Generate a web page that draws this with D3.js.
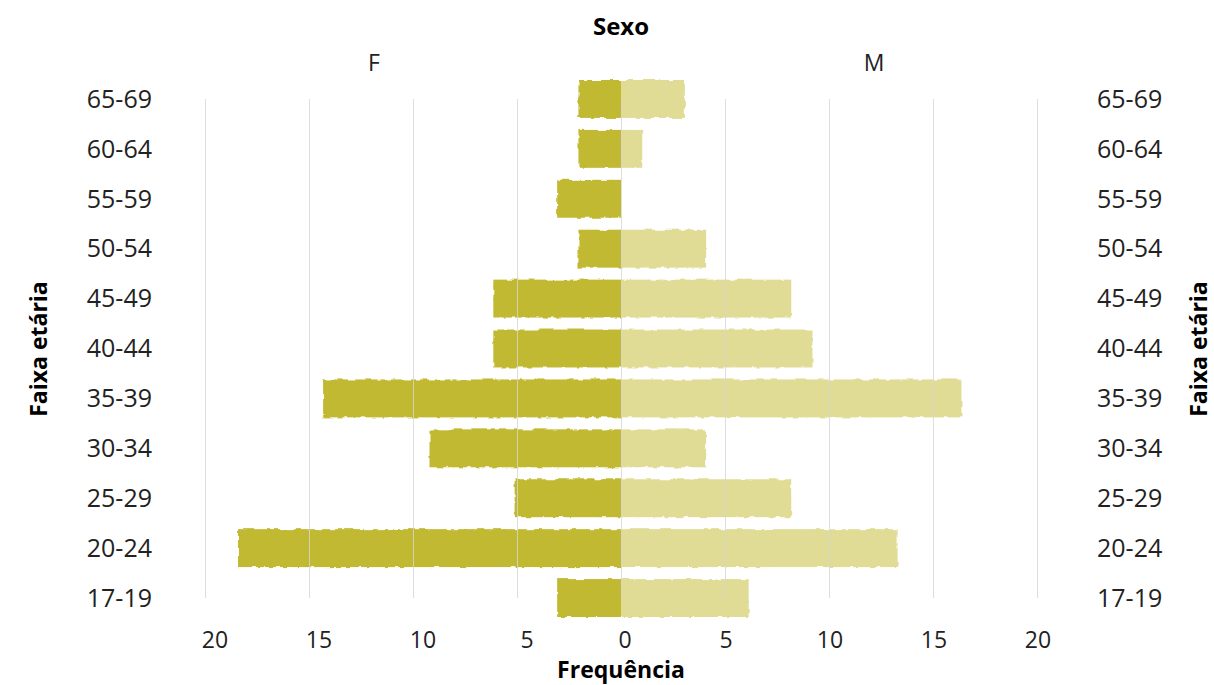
<!DOCTYPE html>
<html>
<head>
<meta charset="utf-8">
<script src="https://cdn.jsdelivr.net/npm/d3@7"></script>
<style>
  html, body { margin: 0; padding: 0; background: #fff; }
  svg { display: block; font-family: "Open Sans", "Noto Sans", sans-serif; }
</style>
</head>
<body>
<svg id="chart" width="1214" height="685"></svg>
<script>
// Age groups, bottom to top
const ageGroups = ["17-19", "20-24", "25-29", "30-34", "35-39", "40-44", "45-49", "50-54", "55-59", "60-64", "65-69"];
// Frequencies per sex
const femaleCounts = [3, 18, 5, 9, 14, 6, 6, 2, 3, 2, 2];
const maleCounts   = [6, 13, 8, 4, 16, 9, 8, 4, 0, 1, 3];
const tickValues = [0, 5, 10, 15, 20];
const sexLabels = ["F", "M"];

const svg = d3.select("#chart");
const x0 = 621, halfW = 416;

// Axis / grid scales for each half
const xF = d3.scaleLinear().domain([0, 20]).range([x0, x0 - halfW]);
const xM = d3.scaleLinear().domain([0, 20]).range([x0, x0 + halfW]);
// Bar length scales (sketchy marks run a touch long)
const barF = d3.scaleLinear().domain([0, 20]).range([x0, x0 - halfW * 1.023]);
const barM = d3.scaleLinear().domain([0, 20]).range([x0, x0 + halfW * 1.023]);

const y = d3.scaleBand()
  .domain(ageGroups.slice().reverse())
  .range([74, 623])
  .paddingInner(0.24)
  .paddingOuter(0.12);

const defs = svg.append("defs");
// Rough, hand-drawn edge for the bars
const filt = defs.append("filter").attr("id", "rough")
  .attr("x", "-5%").attr("y", "-20%").attr("width", "110%").attr("height", "140%");
filt.append("feTurbulence").attr("type", "fractalNoise")
  .attr("baseFrequency", 0.12).attr("numOctaves", 2).attr("seed", 3).attr("result", "noise");
filt.append("feDisplacementMap").attr("in", "SourceGraphic").attr("in2", "noise")
  .attr("scale", 4).attr("xChannelSelector", "R").attr("yChannelSelector", "G");
// Keep the centre edge straight
defs.append("clipPath").attr("id", "clipF").append("rect")
  .attr("x", 0).attr("y", 0).attr("width", x0).attr("height", 685);
defs.append("clipPath").attr("id", "clipM").append("rect")
  .attr("x", x0).attr("y", 0).attr("width", 1214 - x0).attr("height", 685);

const rows = ageGroups.map((g, i) => ({ g, f: femaleCounts[i], m: maleCounts[i] }));
const overlap = 8;

svg.append("g").attr("clip-path", "url(#clipF)")
  .append("g").attr("filter", "url(#rough)")
  .selectAll("rect").data(rows.filter(d => d.f > 0)).join("rect")
  .attr("x", d => barF(d.f)).attr("width", d => barF(0) - barF(d.f) + overlap)
  .attr("y", d => y(d.g)).attr("height", y.bandwidth())
  .attr("fill", "#c2b930");

svg.append("g").attr("clip-path", "url(#clipM)")
  .append("g").attr("filter", "url(#rough)")
  .selectAll("rect").data(rows.filter(d => d.m > 0)).join("rect")
  .attr("x", barM(0) - overlap).attr("width", d => barM(d.m) - barM(0) + overlap)
  .attr("y", d => y(d.g)).attr("height", y.bandwidth())
  .attr("fill", "#e0dc96");

// Vertical grid lines between the first and last band centres
const gTop = y(ageGroups[ageGroups.length - 1]) + y.bandwidth() / 2;
const gBot = y(ageGroups[0]) + y.bandwidth() / 2;
const gridX = Array.from(new Set(tickValues.map(v => xF(v)).concat(tickValues.map(v => xM(v)))));
svg.append("g").attr("stroke", "#d6d6d6").attr("stroke-width", 1).attr("opacity", 0.8)
  .selectAll("line").data(gridX).join("line")
  .attr("x1", d => Math.round(d) + 0.5).attr("x2", d => Math.round(d) + 0.5)
  .attr("y1", gTop).attr("y2", gBot);

// Frequency tick labels
const tickG = svg.append("g").attr("font-size", 23).attr("fill", "#222").attr("text-anchor", "middle");
tickG.selectAll("text.tf").data(tickValues.filter(v => v > 0)).join("text").attr("class", "tf")
  .attr("x", d => xF(d) + 10).attr("y", 648).text(d => d);
tickG.selectAll("text.tm").data(tickValues).join("text").attr("class", "tm")
  .attr("x", d => xM(d) + (d === 0 ? 4 : 1)).attr("y", 648).text(d => d);

// Age group labels on both sides
const ageG = svg.append("g").attr("font-size", 25).attr("fill", "#222");
ageG.selectAll("text.l").data(ageGroups).join("text").attr("class", "l")
  .attr("x", 152).attr("y", d => y(d) + y.bandwidth() / 2).attr("dy", "0.35em")
  .attr("text-anchor", "end").text(d => d);
ageG.selectAll("text.r").data(ageGroups).join("text").attr("class", "r")
  .attr("x", 1097).attr("y", d => y(d) + y.bandwidth() / 2).attr("dy", "0.35em")
  .attr("text-anchor", "start").text(d => d);

// Titles
svg.append("text").attr("x", 621).attr("y", 35).attr("text-anchor", "middle")
  .attr("font-size", 24).attr("font-weight", "bold").attr("fill", "#000").text("Sexo");
svg.append("g").selectAll("text").data(sexLabels).join("text")
  .attr("x", (d, i) => i === 0 ? 374 : 874).attr("y", 71).attr("text-anchor", "middle")
  .attr("font-size", 23).attr("fill", "#222").text(d => d);
svg.append("text").attr("x", 621).attr("y", 678).attr("text-anchor", "middle")
  .attr("font-size", 23).attr("font-weight", "bold").attr("fill", "#000").text("Frequência");
[47, 1207].forEach(px => {
  svg.append("text").attr("transform", `translate(${px},349) rotate(-90)`)
    .attr("text-anchor", "middle").attr("font-size", 23).attr("font-weight", "bold")
    .attr("fill", "#000").text("Faixa etária");
});
</script>
</body>
</html>
